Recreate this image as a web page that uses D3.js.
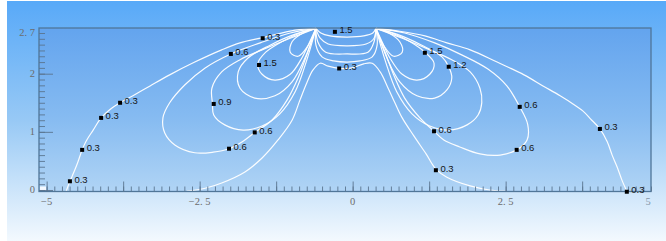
<!DOCTYPE html>
<html>
<head>
<meta charset="utf-8">
<script src="https://cdn.jsdelivr.net/npm/d3@7"></script>
<style>
	body { margin: 0; background: #fff; }
	svg { display: block; }
</style>
</head>
<body>
<div id="chart"></div>
<script>
const W = 666
const H = 241

// axis extent (field units) and labelled ticks
const X_EXTENT = [-5.125, 4.875]
const Y_EXTENT = [-0.026, 2.786]
const X_LABELS = [-5, -2.5, 0, 2.5, 5]
const Y_LABELS = [0, 1, 2, 2.7]

// contour lines, [x, y]
const outer03Left = [[-0.60,2.78],[-0.94,2.75],[-1.47,2.62],[-1.84,2.53],[-2.14,2.41],[-2.58,2.20],[-2.99,1.98],[-3.31,1.79],[-3.59,1.62],[-3.80,1.50],[-3.97,1.38],[-4.11,1.24],[-4.24,1.03],[-4.36,0.83],[-4.42,0.69],[-4.50,0.45],[-4.59,0.22],[-4.62,0.15],[-4.68,-0.02]]
const outer03Right = [[0.38,2.78],[0.77,2.73],[1.18,2.65],[1.54,2.53],[1.92,2.41],[2.36,2.20],[2.80,1.98],[3.11,1.79],[3.39,1.62],[3.60,1.48],[3.76,1.36],[3.89,1.22],[4.04,1.05],[4.16,0.83],[4.24,0.60],[4.32,0.40],[4.40,0.17],[4.48,-0.02]]
const inner03 = [[-2.71,-0.02],[-2.41,0.03],[-2.14,0.12],[-1.76,0.31],[-1.48,0.55],[-1.22,0.86],[-0.99,1.20],[-0.86,1.55],[-0.75,1.84],[-0.65,2.06],[-0.53,2.18],[-0.40,2.13],[-0.22,2.09],[-0.01,2.10],[0.18,2.17],[0.32,2.18],[0.45,2.03],[0.58,1.75],[0.69,1.50],[0.81,1.24],[1.00,0.93],[1.20,0.62],[1.36,0.36],[1.54,0.22],[1.92,0.07],[2.24,0.00],[2.50,-0.02]]
const loop06Left = [[-0.60,2.78],[-1.02,2.70],[-1.51,2.53],[-1.99,2.34],[-2.41,2.10],[-2.74,1.81],[-2.99,1.50],[-3.10,1.24],[-3.07,0.98],[-2.90,0.77],[-2.58,0.64],[-2.28,0.65],[-2.02,0.71],[-1.79,0.84],[-1.60,0.99],[-1.32,1.20],[-1.07,1.55],[-0.89,1.93],[-0.75,2.32],[-0.60,2.78]]
const loop06Right = [[0.38,2.78],[0.85,2.70],[1.34,2.53],[1.79,2.32],[2.21,2.08],[2.52,1.79],[2.73,1.43],[2.86,1.13],[2.85,0.86],[2.68,0.69],[2.41,0.60],[2.08,0.62],[1.75,0.74],[1.49,0.86],[1.33,1.01],[1.10,1.24],[0.85,1.58],[0.67,1.98],[0.53,2.37],[0.38,2.78]]
const loop09Left = [[-0.60,2.78],[-1.02,2.61],[-1.48,2.41],[-1.84,2.24],[-2.14,2.03],[-2.30,1.75],[-2.29,1.48],[-2.27,1.29],[-2.09,1.12],[-1.79,1.03],[-1.48,1.10],[-1.19,1.31],[-0.94,1.69],[-0.76,2.20],[-0.60,2.78]]
const loop09Right = [[0.38,2.78],[0.81,2.61],[1.26,2.41],[1.62,2.24],[1.92,2.03],[2.08,1.75],[2.11,1.50],[2.05,1.29],[1.87,1.12],[1.57,1.03],[1.26,1.10],[0.97,1.31],[0.72,1.69],[0.54,2.20],[0.38,2.78]]
const loop12Left = [[-0.60,2.78],[-0.94,2.68],[-1.35,2.49],[-1.71,2.27],[-1.87,2.03],[-1.84,1.75],[-1.60,1.58],[-1.27,1.62],[-0.99,1.86],[-0.78,2.27],[-0.60,2.78]]
const loop12Right = [[0.38,2.78],[0.72,2.68],[1.13,2.49],[1.46,2.29],[1.57,2.12],[1.62,1.93],[1.54,1.72],[1.34,1.58],[1.05,1.62],[0.77,1.86],[0.56,2.27],[0.38,2.78]]
const loop15Left = [[-0.60,2.78],[-0.86,2.70],[-1.16,2.55],[-1.42,2.37],[-1.55,2.17],[-1.48,1.99],[-1.27,1.89],[-1.02,1.99],[-0.83,2.27],[-0.70,2.55],[-0.60,2.78]]
const loop15Right = [[0.38,2.78],[0.64,2.70],[0.94,2.55],[1.18,2.37],[1.33,2.18],[1.26,1.99],[1.05,1.89],[0.81,1.99],[0.61,2.27],[0.48,2.55],[0.38,2.78]]
const loop18Left = [[-0.60,2.78],[-0.81,2.70],[-0.99,2.55],[-1.02,2.37],[-0.89,2.30],[-0.73,2.48],[-0.60,2.78]]
const loop18Right = [[0.38,2.78],[0.59,2.70],[0.77,2.55],[0.81,2.37],[0.67,2.30],[0.51,2.48],[0.38,2.78]]
// between the two sources
const mid15 = [[-0.60,2.78],[-0.52,2.70],[-0.37,2.65],[-0.09,2.63],[0.18,2.65],[0.33,2.70],[0.38,2.78]]
const mid12 = [[-0.60,2.78],[-0.53,2.61],[-0.40,2.51],[-0.09,2.48],[0.22,2.51],[0.35,2.61],[0.38,2.78]]
const mid09 = [[-0.60,2.78],[-0.57,2.55],[-0.44,2.37],[-0.09,2.34],[0.25,2.37],[0.35,2.55],[0.38,2.78]]
const mid06 = [[-0.60,2.78],[-0.60,2.49],[-0.50,2.29],[-0.31,2.22],[-0.09,2.20],[0.12,2.22],[0.32,2.29],[0.40,2.49],[0.38,2.78]]

const contours = [
	outer03Left, outer03Right, inner03,
	loop06Left, loop06Right, loop09Left, loop09Right,
	loop12Left, loop12Right, loop15Left, loop15Right,
	loop18Left, loop18Right,
	mid15, mid12, mid09, mid06,
]

// labelled points: x, y, value
const markers = [
	[-4.62, 0.15, '0.3'], [-4.42, 0.69, '0.3'], [-4.11, 1.24, '0.3'], [-3.80, 1.50, '0.3'],
	[-1.99, 2.34, '0.6'], [-1.47, 2.61, '0.3'], [-1.53, 2.15, '1.5'], [-0.29, 2.72, '1.5'],
	[-0.22, 2.09, '0.3'], [1.18, 2.36, '1.5'], [1.57, 2.12, '1.2'], [2.73, 1.43, '0.6'],
	[-2.27, 1.48, '0.9'], [-1.60, 0.99, '0.6'], [-2.02, 0.71, '0.6'], [1.33, 1.01, '0.6'],
	[1.36, 0.34, '0.3'], [2.68, 0.69, '0.6'], [4.04, 1.05, '0.3'], [4.48, -0.03, '0.3'],
]

const svg = d3.select('#chart').append('svg').attr('width', W).attr('height', H)

const x = d3.scaleLinear().domain(X_EXTENT).range([39, 651])
const y = d3.scaleLinear().domain(Y_EXTENT).range([191.5, 28])

const defs = svg.append('defs')
const bgGrad = defs.append('linearGradient').attr('id', 'bg').attr('x1', 0).attr('y1', 0).attr('x2', 0).attr('y2', 1)
bgGrad.append('stop').attr('offset', 0).attr('stop-color', '#58a9f8')
bgGrad.append('stop').attr('offset', 0.5).attr('stop-color', '#98c9f5')
bgGrad.append('stop').attr('offset', 1).attr('stop-color', '#f3f9fe')
const plotGrad = defs.append('linearGradient').attr('id', 'plotbg').attr('x1', 0).attr('y1', 0).attr('x2', 0).attr('y2', 1)
plotGrad.append('stop').attr('offset', 0).attr('stop-color', '#63a4ee')
plotGrad.append('stop').attr('offset', 0.55).attr('stop-color', '#86bbf1')
plotGrad.append('stop').attr('offset', 1).attr('stop-color', '#b0d4f5')

svg.append('rect').attr('x', 7).attr('y', 1).attr('width', W - 7).attr('height', H - 1).attr('fill', 'url(#bg)')

const [x0, x1] = x.range()
const [y0, y1] = y.range()
svg.append('rect')
	.attr('x', x0).attr('y', y1)
	.attr('width', x1 - x0).attr('height', y0 - y1)
	.attr('fill', 'url(#plotbg)')

defs.append('clipPath').attr('id', 'clip')
	.append('rect').attr('x', x0).attr('y', y1 - 1).attr('width', x1 - x0).attr('height', y0 - y1 + 1)

// contour lines
const line = d3.line().x(d => x(d[0])).y(d => y(d[1])).curve(d3.curveCatmullRom.alpha(0.5))
svg.append('g').attr('id', 'contours').attr('clip-path', 'url(#clip)')
	.selectAll('path')
	.data(contours)
	.join('path')
	.attr('d', line)
	.attr('fill', 'none')
	.attr('stroke', '#ffffff')
	.attr('stroke-width', 1.2)
	.attr('stroke-opacity', 0.95)

// corner patch
svg.append('rect')
	.attr('x', x0 + 1).attr('y', y0 - 5)
	.attr('width', 6).attr('height', 5)
	.attr('fill', '#f4f9ff')

// frame
svg.append('rect')
	.attr('x', x0).attr('y', y1)
	.attr('width', x1 - x0).attr('height', y0 - y1)
	.attr('fill', 'none')
	.attr('stroke', '#4f7699')
	.attr('stroke-width', 1.3)

// x ticks (inside, pointing up)
const xMinor = d3.range(-5, 4.9, 0.125)
const xMajor = d3.range(-5, 4.9, 1.25)
const xAxisMinor = svg.append('g').attr('transform', `translate(0,${y0})`)
	.call(d3.axisBottom(x).tickValues(xMinor).tickSize(-5).tickFormat(''))
const xAxisMajor = svg.append('g').attr('transform', `translate(0,${y0})`)
	.call(d3.axisBottom(x).tickValues(xMajor).tickSize(-10).tickFormat(''))

// y ticks (inside, pointing right)
const yMinor = d3.range(0, 2.75, 0.1)
const yMajor = [0, 1, 2]
const yAxisMinor = svg.append('g').attr('transform', `translate(${x0},0)`)
	.call(d3.axisLeft(y).tickValues(yMinor).tickSize(-6).tickFormat(''))
const yAxisMajor = svg.append('g').attr('transform', `translate(${x0},0)`)
	.call(d3.axisLeft(y).tickValues(yMajor).tickSize(-14).tickFormat(''))

for (const g of [xAxisMinor, xAxisMajor, yAxisMinor, yAxisMajor]) {
	g.select('.domain').remove()
	g.selectAll('line').attr('stroke', '#5a7590').attr('stroke-width', 0.9)
}

const fmt = d => String(d).replace('-', '\u2212').replace('.', '. ')

// x labels
svg.append('g').selectAll('text')
	.data(X_LABELS)
	.join('text')
	.attr('x', d => Math.min(x(d), x1 - 3))
	.attr('y', y0 + 13)
	.attr('text-anchor', 'middle')
	.attr('font-family', 'Liberation Serif, serif')
	.attr('font-size', 10.5)
	.attr('fill', d => (x(d) > x1 ? '#8597a8' : '#6c6c6c'))
	.text(fmt)

// y labels
svg.append('g').selectAll('text')
	.data(Y_LABELS)
	.join('text')
	.attr('x', x0 - 4)
	.attr('y', d => y(d) + 3)
	.attr('text-anchor', 'end')
	.attr('font-family', 'Liberation Serif, serif')
	.attr('font-size', 10.5)
	.attr('fill', '#6c6c6c')
	.text(fmt)

// value markers
const mk = svg.append('g').attr('id', 'markers')
mk.selectAll('rect')
	.data(markers)
	.join('rect')
	.attr('x', d => x(d[0]) - 2)
	.attr('y', d => y(d[1]) - 2)
	.attr('width', 4)
	.attr('height', 4)
	.attr('fill', '#000')
mk.selectAll('text')
	.data(markers)
	.join('text')
	.attr('x', d => x(d[0]) + 4.5)
	.attr('y', d => y(d[1]) + 1.5)
	.attr('font-family', 'Liberation Sans, Arial, sans-serif')
	.attr('font-size', 9.5)
	.attr('fill', '#151515')
	.text(d => d[2])
</script>
</body>
</html>
